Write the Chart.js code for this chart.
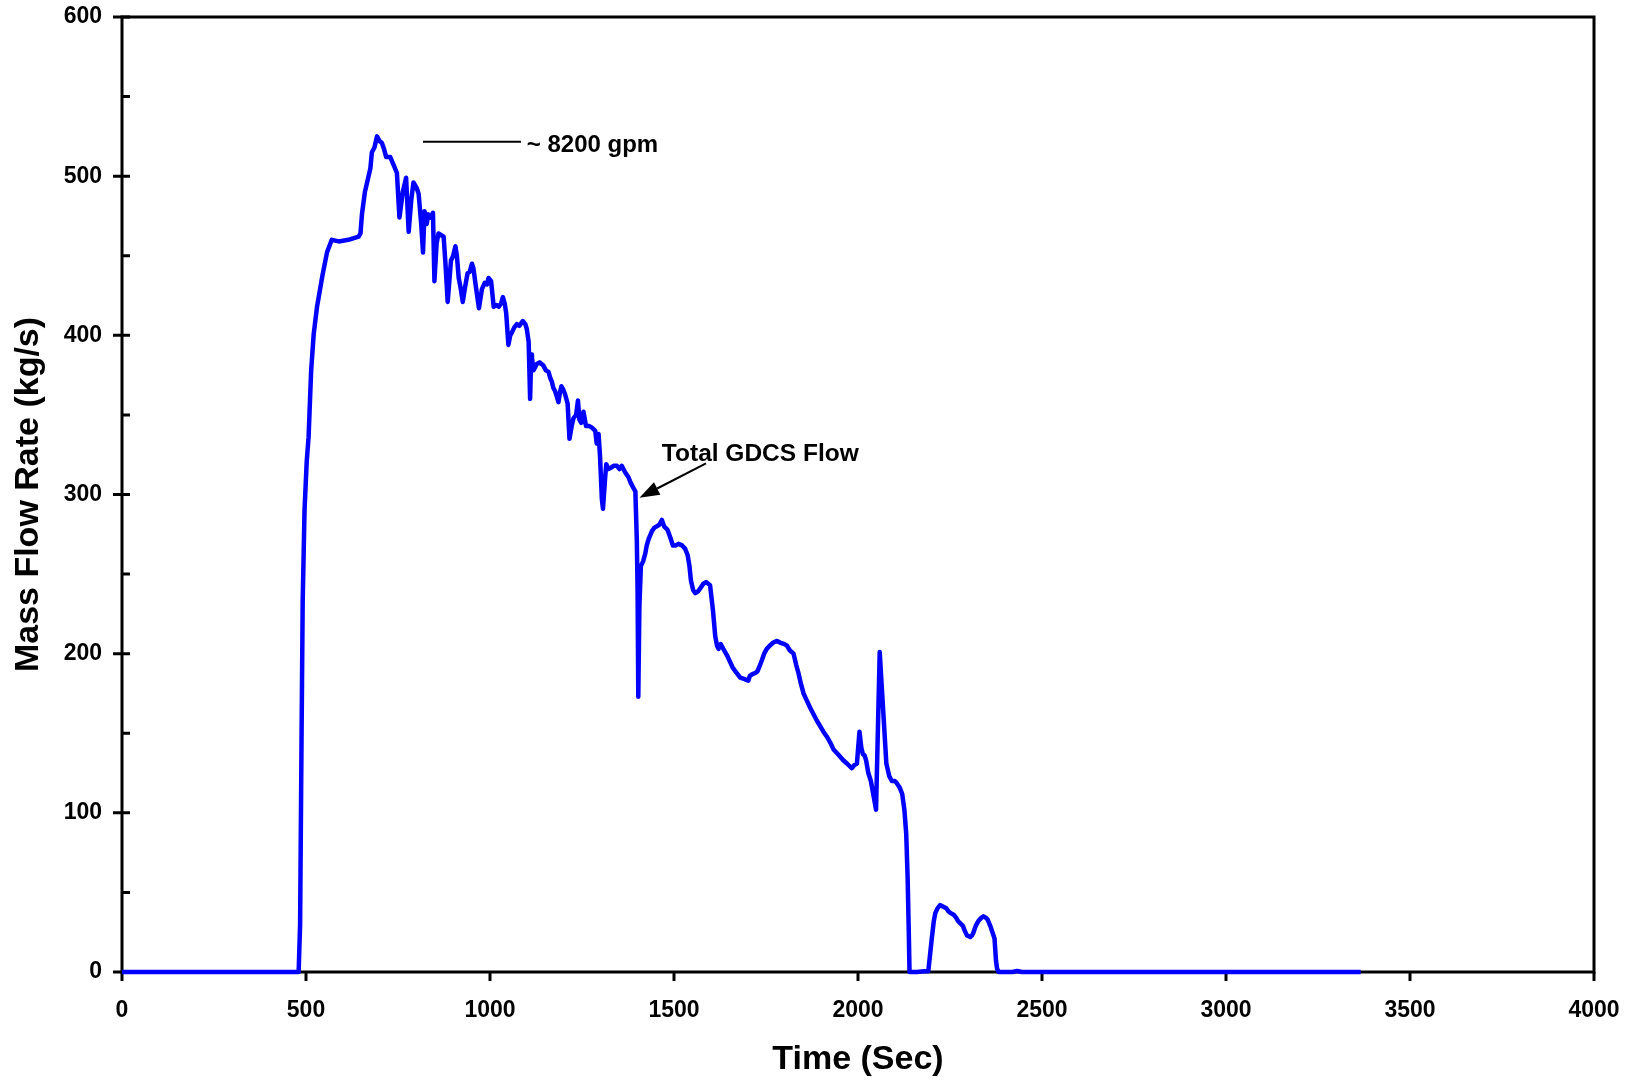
<!DOCTYPE html>
<html><head><meta charset="utf-8">
<script src="https://cdn.jsdelivr.net/npm/chart.js@4/dist/chart.umd.min.js"></script>
<style>html,body{margin:0;padding:0;background:#fff;} canvas{display:block;}</style>
</head><body>
<canvas id="c" width="1627" height="1080"></canvas>
<script>
// ---- Data ----
const timeSec = [0,480,484,488,491,496,502,507,514,521,530,539,545,557,570,589,615,643,648,652,660,667,675,679,686,693,700,706,712,718,729,740,747,754,763,772,779,786,792,800,806,813,818,822,828,832,838,845,849,855,860,874,879,885,894,900,906,910,915,920,926,932,939,945,951,955,962,970,978,986,992,996,1003,1010,1018,1024,1030,1035,1040,1044,1050,1055,1060,1066,1073,1080,1089,1096,1100,1105,1109,1112,1114,1118,1123,1127,1135,1145,1152,1159,1164,1168,1172,1177,1186,1190,1194,1199,1204,1211,1216,1222,1227,1234,1239,1243,1248,1254,1261,1270,1277,1286,1290,1295,1299,1304,1307,1313,1316,1322,1330,1336,1345,1352,1358,1367,1376,1383,1390,1395,1399,1401,1403,1406,1410,1416,1422,1426,1431,1440,1446,1453,1460,1467,1473,1482,1490,1497,1505,1512,1522,1530,1537,1542,1546,1552,1558,1565,1571,1580,1587,1598,1603,1606,1612,1617,1621,1627,1634,1644,1652,1660,1670,1680,1692,1702,1706,1712,1722,1727,1734,1739,1745,1752,1760,1770,1780,1788,1800,1807,1815,1825,1832,1838,1845,1852,1860,1870,1888,1906,1915,1925,1933,1945,1960,1970,1983,1990,1997,2004,2009,2013,2018,2022,2028,2035,2042,2049,2059,2077,2085,2092,2100,2104,2110,2113,2120,2126,2131,2135,2138,2140,2160,2180,2191,2200,2206,2210,2216,2223,2232,2240,2246,2252,2260,2267,2272,2276,2285,2290,2296,2305,2310,2314,2320,2327,2335,2341,2348,2352,2361,2371,2375,2378,2382,2420,2432,2445,3366];
const massFlow = [0,0,30,150,233,290,321,336,378,401,418,430,438,452,460,459,460,462,464,476,490,497,505,515,518,525,522,521,517,512,512,506,502,474,490,499,465,485,496,493,489,470,452,478,470,476,474,477,434,458,464,462,445,421,447,450,456,450,436,430,421,430,439,440,445,442,430,417,429,433,432,436,434,418,419,418,420,424,420,414,394,400,402,405,407,406,409,407,404,396,360,388,386,378,380,382,383,381,378,377,373,371,367,365,358,364,368,366,363,357,335,343,348,350,359,347,345,352,343,343,342,340,332,338,324,297,291,311,319,316,317,318,318,316,318,314,311,307,304,302,271,240,173,230,255,258,263,268,272,277,279,280,281,284,280,278,273,268,268,269,268,266,262,255,246,240,238,239,241,244,245,243,233,227,211,205,203,206,203,199,195,191,188,185,184,183,186,187,188,189,193,196,200,203,205,207,208,207,206,205,202,200,193,188,181,175,171,166,158,151,148,144,140,137,133,131,128,130,131,151,141,137,136,133,125,120,111,102,201,131,123,120,120,119,117,116,112,102,87,58,25,0,0,0.5,0.5,20,32,37,40,42,41,40,38,37,36,34,32,31,29,26,23,22,23,25,29,32,34,35,34,33,28,21,7,2,0,0,0.6,0,0];

const xTickValues = [0,500,1000,1500,2000,2500,3000,3500,4000];
const yTickValues = [0,100,200,300,400,500,600];
const yMinorTickValues = [50,150,250,350,450,550];

const xAxisTitle = 'Time (Sec)';
const yAxisTitle = 'Mass Flow Rate (kg/s)';
const peakNote = '~ 8200 gpm';
const seriesNote = 'Total GDCS Flow';

// annotation anchors in data units (time, flow)
const peakLineFrom = [818, 521.6];
const peakLineTo = [1084, 521.6];
const peakTextAt = [1100, 519.5];
const seriesTextAt = [1467, 325];
const arrowFrom = [1587, 319.6];
const arrowTo = [1406, 298];

const FONT = '"Liberation Sans", Arial, Helvetica, sans-serif';

const framePlugin = {
  id: 'frame',
  beforeDatasetsDraw(chart) {
    const {ctx, chartArea: a, scales: {x, y}} = chart;
    ctx.save();
    ctx.strokeStyle = '#000';
    ctx.lineWidth = 3;
    ctx.strokeRect(a.left, a.top, a.right - a.left, a.bottom - a.top);
    ctx.beginPath();
    yTickValues.forEach(v => { const p = y.getPixelForValue(v); ctx.moveTo(a.left - 9, p); ctx.lineTo(a.left + 8, p); });
    yMinorTickValues.forEach(v => { const p = y.getPixelForValue(v); ctx.moveTo(a.left, p); ctx.lineTo(a.left + 8, p); });
    xTickValues.forEach(v => { const p = x.getPixelForValue(v); ctx.moveTo(p, a.bottom); ctx.lineTo(p, a.bottom + 9); });
    ctx.stroke();
    ctx.restore();
  }
};

const notePlugin = {
  id: 'notes',
  afterDatasetsDraw(chart) {
    const {ctx, scales: {x, y}} = chart;
    const P = (d) => [x.getPixelForValue(d[0]), y.getPixelForValue(d[1])];
    ctx.save();
    ctx.strokeStyle = '#000';
    ctx.fillStyle = '#000';
    ctx.lineWidth = 2;
    const a = P(peakLineFrom), b = P(peakLineTo);
    ctx.beginPath(); ctx.moveTo(a[0], a[1]); ctx.lineTo(b[0], b[1]); ctx.stroke();
    ctx.textAlign = 'left';
    ctx.textBaseline = 'middle';
    ctx.font = 'bold 24px ' + FONT;
    const t1 = P(peakTextAt);
    ctx.fillText(peakNote, t1[0], t1[1]);
    ctx.font = 'bold 24.5px ' + FONT;
    const t2 = P(seriesTextAt);
    ctx.fillText(seriesNote, t2[0], t2[1]);
    const f = P(arrowFrom), t = P(arrowTo);
    const ang = Math.atan2(t[1] - f[1], t[0] - f[0]);
    const hl = 20, hw = 7;
    const bx = t[0] - hl * Math.cos(ang), by = t[1] - hl * Math.sin(ang);
    ctx.beginPath(); ctx.moveTo(f[0], f[1]); ctx.lineTo(bx, by); ctx.stroke();
    ctx.beginPath();
    ctx.moveTo(t[0], t[1]);
    ctx.lineTo(bx + hw * Math.sin(ang), by - hw * Math.cos(ang));
    ctx.lineTo(bx - hw * Math.sin(ang), by + hw * Math.cos(ang));
    ctx.closePath(); ctx.fill();
    ctx.restore();
  }
};

const noOverhang = s => { s.paddingTop = 0; s.paddingBottom = 0; s.paddingLeft = 0; s.paddingRight = 0; };

new Chart(document.getElementById('c'), {
  type: 'line',
  data: {
    datasets: [{
      label: seriesNote,
      data: timeSec.map((t, i) => ({x: t, y: massFlow[i]})),
      borderColor: '#0000FF',
      backgroundColor: '#0000FF',
      borderWidth: 4.5,
      pointRadius: 0,
      tension: 0,
      fill: false,
      clip: 4,
      borderJoinStyle: 'round'
    }]
  },
  options: {
    responsive: false,
    animation: false,
    devicePixelRatio: 1,
    layout: {padding: {left: 0, top: 17, right: 33, bottom: 0}},
    plugins: {legend: {display: false}, tooltip: {enabled: false}},
    scales: {
      x: {
        type: 'linear', min: 0, max: 4000,
        afterBuildTicks: s => { s.ticks = xTickValues.map(v => ({value: v})); },
        afterFit: s => { s.height = 108; noOverhang(s); },
        grid: {display: false, drawTicks: false},
        border: {display: false},
        ticks: {color: '#000', font: {family: FONT, size: 23, weight: 'bold'}, padding: 25, maxRotation: 0, autoSkip: false, callback: v => String(v)},
        title: {display: true, text: xAxisTitle, color: '#000', font: {family: FONT, size: 34, weight: 'bold', lineHeight: 1.2}, padding: {top: 0, bottom: 0}}
      },
      y: {
        type: 'linear', min: 0, max: 600,
        afterBuildTicks: s => { s.ticks = yTickValues.map(v => ({value: v})); },
        afterFit: s => { s.width = 122; noOverhang(s); },
        grid: {display: false, drawTicks: false},
        border: {display: false},
        ticks: {color: '#000', font: {family: FONT, size: 23, weight: 'bold'}, padding: 20, autoSkip: false, callback: v => String(v)},
        title: {display: true, text: yAxisTitle, color: '#000', font: {family: FONT, size: 34, weight: 'bold', lineHeight: 1.2}, padding: {top: 8, bottom: 0}}
      }
    }
  },
  plugins: [framePlugin, notePlugin]
});
</script>
</body></html>
